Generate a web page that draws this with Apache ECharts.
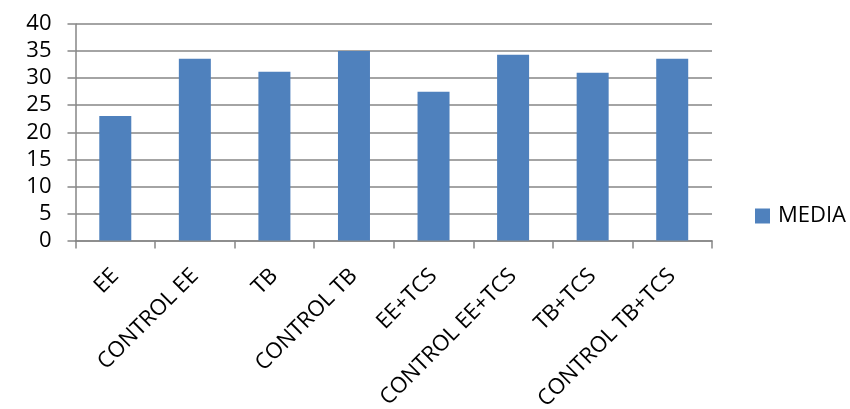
<!DOCTYPE html>
<html><head><meta charset="utf-8">
<script src="https://cdn.jsdelivr.net/npm/echarts@6/dist/echarts.min.js"></script>
<style>html,body{margin:0;padding:0;background:#fff}#c{width:850px;height:409px}</style>
</head><body><div id="c"></div>
<script>
const categories = ['EE','CONTROL EE','TB','CONTROL TB','EE+TCS','CONTROL EE+TCS','TB+TCS','CONTROL TB+TCS'];
const mediaValues = [23.0, 33.6, 31.2, 35.0, 27.5, 34.3, 31.0, 33.6];
const yTicks = [0,5,10,15,20,25,30,35,40];
const seriesName = 'MEDIA';
const font = '"Open Sans", sans-serif';
const chart = echarts.init(document.getElementById('c'), null, {renderer:'canvas'});
chart.setOption({
  animation:false,
  grid:{left:75.5, right:138, top:24, bottom:168.5, containLabel:false, outerBoundsMode:'none'},
  legend:{data:[seriesName], left:755, top:205, padding:0, orient:'vertical', itemWidth:15, itemHeight:15, itemGap:6,
    textStyle:{fontFamily:font, fontSize:22, color:'#000', padding:[0,0,0,3]}, icon:'rect'},
  xAxis:{type:'category', data:categories, boundaryGap:true,
    axisLine:{lineStyle:{color:'#868686', width:1.5}},
    axisTick:{show:true, length:8, lineStyle:{color:'#868686', width:1.5}, alignWithLabel:false},
    axisLabel:{rotate:45, fontFamily:font, fontSize:22, color:'#000', margin:32, interval:0}},
  yAxis:{type:'value', min:yTicks[0], max:yTicks[yTicks.length-1], interval:5,
    axisLine:{show:true, lineStyle:{color:'#868686', width:1.5}},
    axisTick:{show:true, length:8, lineStyle:{color:'#868686', width:1.5}},
    splitLine:{lineStyle:{color:'#868686', width:1.5}},
    axisLabel:{fontFamily:font, fontSize:22, color:'#000', margin:24}},
  series:[{name:seriesName, type:'bar', data:mediaValues, barWidth:32,
    itemStyle:{color:'#4F81BD'}}]
});
</script></body></html>
